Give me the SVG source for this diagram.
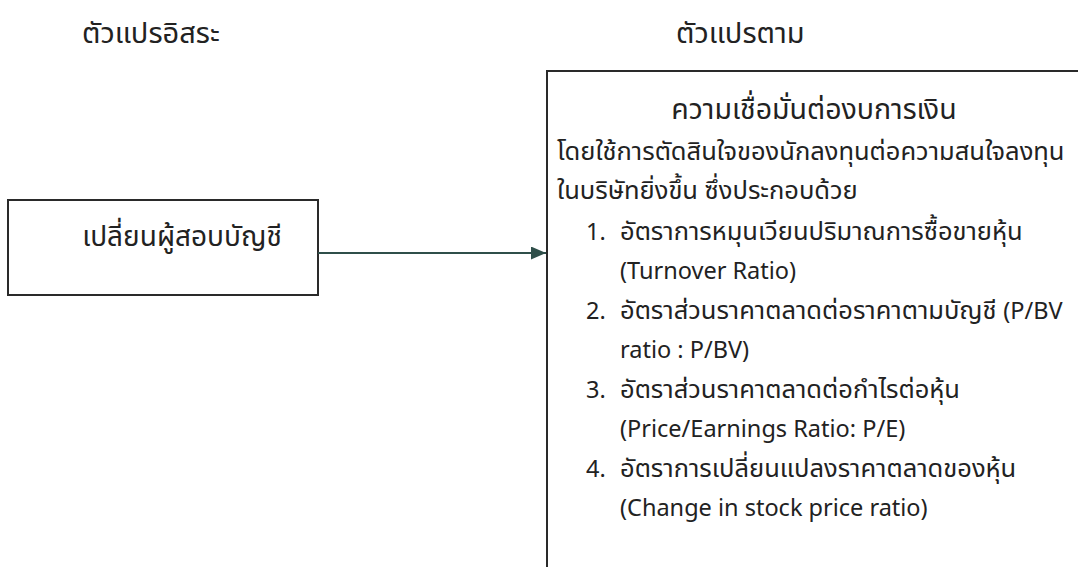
<svg xmlns="http://www.w3.org/2000/svg" width="1078" height="567" viewBox="0 0 1078 567">
<style>
text{font-family:"Noto Sans","Noto Sans Thai","Liberation Sans",sans-serif;fill:#222;}
.h{font-size:29px;}
.t{font-size:28.5px;}
.n{font-size:28px;}
.b{font-size:25.5px;}
.l{font-size:23.5px;}
.box{fill:#fff;stroke:#2a2a2a;stroke-width:2;}
.edge{stroke:#2f4f4a;stroke-width:1.8;fill:none;}
</style>
<defs>
<marker id="arr" markerWidth="15" markerHeight="13" refX="15" refY="6.5" orient="auto" markerUnits="userSpaceOnUse" viewBox="0 0 15 13">
<path d="M0,0 L15,6.5 L0,13 z" fill="#2f4f4a"/>
</marker>
</defs>
<rect width="1078" height="567" fill="#fff"/>
<g id="header-left"><text class="h" x="82" y="43">ตัวแปรอิสระ</text></g>
<g id="header-right"><text class="h" x="676" y="43">ตัวแปรตาม</text></g>
<g id="node-independent">
<rect class="box" x="8" y="200" width="310" height="95"/>
<text class="n" x="182" y="246" text-anchor="middle">เปลี่ยนผู้สอบบัญชี</text>
</g>
<g id="node-dependent">
<path class="box" d="M1080,71 H547 V570"/>
<text class="t" x="814" y="119" text-anchor="middle">ความเชื่อมั่นต่องบการเงิน</text>
<text class="b" x="557" y="160">โดยใช้การตัดสินใจของนักลงทุนต่อความสนใจลงทุน</text>
<text class="b" x="557" y="199">ในบริษัทยิ่งขึ้น ซึ่งประกอบด้วย</text>
<text class="l" x="586" y="240">1.</text><text class="b" x="620" y="240">อัตราการหมุนเวียนปริมาณการซื้อขายหุ้น</text>
<text class="l" x="620" y="279">(Turnover Ratio)</text>
<text class="l" x="586" y="319">2.</text><text class="b" x="620" y="319">อัตราส่วนราคาตลาดต่อราคาตามบัญชี <tspan class="l">(P/BV</tspan></text>
<text class="l" x="620" y="358">ratio : P/BV)</text>
<text class="l" x="586" y="398">3.</text><text class="b" x="620" y="398">อัตราส่วนราคาตลาดต่อกำไรต่อหุ้น</text>
<text class="l" x="620" y="437">(Price/Earnings Ratio: P/E)</text>
<text class="l" x="586" y="477">4.</text><text class="b" x="620" y="477">อัตราการเปลี่ยนแปลงราคาตลาดของหุ้น</text>
<text class="l" x="620" y="516">(Change in stock price ratio)</text>
</g>
<g id="connectors">
<line class="edge" x1="318" y1="253" x2="546" y2="253" marker-end="url(#arr)"/>
</g>
</svg>
